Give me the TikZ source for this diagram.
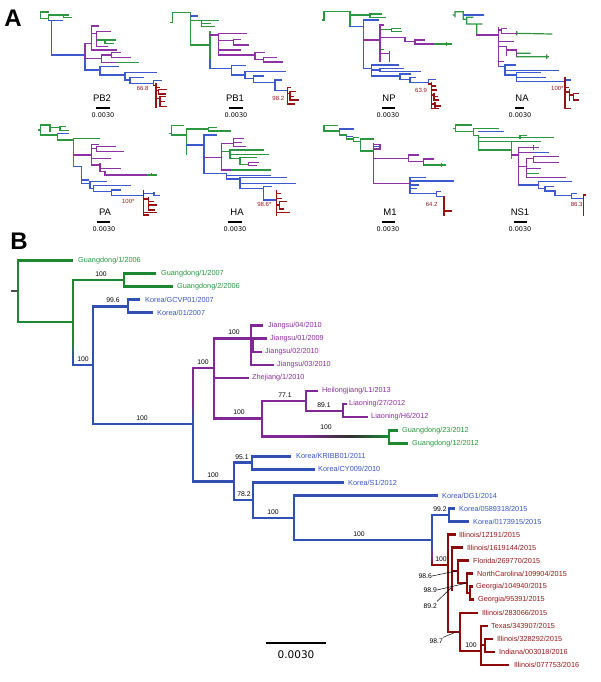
\documentclass[tikz,border=0pt]{standalone}
\usepackage{fontspec}
\setmainfont{Liberation Sans}
\newfontfamily\dvs{DejaVu Sans}
\definecolor{gA}{RGB}{45,150,65}
\definecolor{bA}{RGB}{60,90,205}
\definecolor{pA}{RGB}{140,50,165}
\definecolor{rA}{RGB}{150,20,20}
\definecolor{gB}{RGB}{30,135,50}
\definecolor{bB}{RGB}{50,80,180}
\definecolor{pB}{RGB}{130,40,150}
\definecolor{rB}{RGB}{140,10,10}
\definecolor{dkB}{RGB}{50,50,50}
\definecolor{gT}{RGB}{40,150,60}
\definecolor{bT}{RGB}{55,85,200}
\definecolor{pT}{RGB}{140,45,160}
\definecolor{rT}{RGB}{150,25,25}
% gradient helpers: x, y1, y2, colour1, colour2
\newcommand\vgr[5]{\foreach \k in {0,...,11}{%
  \pgfmathsetmacro\ya{#2+(#3-#2)*\k/12}%
  \pgfmathsetmacro\yb{#2+(#3-#2)*(\k+1)/12}%
  \pgfmathtruncatemacro\pc{100*\k/11}%
  \draw[line width=2.7pt,draw=#5!\pc!#4] (#1,\ya)--(#1,\yb);}}
% y, x1, x2, colour1, colour2
\newcommand\hgr[5]{\foreach \k in {0,...,15}{%
  \pgfmathsetmacro\xa{#2+(#3-#2)*\k/16}%
  \pgfmathsetmacro\xb{#2+(#3-#2)*(\k+1)/16}%
  \pgfmathtruncatemacro\pc{100*\k/15}%
  \draw[line width=2.7pt,draw=#5!\pc!#4] (\xa,#1)--(\xb,#1);}}
\begin{document}
\begin{tikzpicture}[x=1pt,y=-1pt,
 ag/.style={draw=gA,line width=1.2pt,line cap=rect},
 ab/.style={draw=bA,line width=1.2pt,line cap=rect},
 ap/.style={draw=pA,line width=1.2pt,line cap=rect},
 ar/.style={draw=rA,line width=1.2pt,line cap=rect},
 gl/.style={draw=gB,line width=2.7pt,line cap=rect},
 bl/.style={draw=bB,line width=2.7pt,line cap=rect},
 pl/.style={draw=pB,line width=2.7pt,line cap=rect},
 rl/.style={draw=rB,line width=2.7pt,line cap=rect},
 lead/.style={draw=black,line width=0.5pt},
 lab/.style={anchor=west,inner sep=0pt,font=\fontsize{7.3}{8}\selectfont},
 num/.style={inner sep=0pt,font=\fontsize{6.8}{8}\selectfont},
 gene/.style={inner sep=0pt,font=\fontsize{9.5}{10}\selectfont},
 sc/.style={inner sep=0pt,font=\dvs\fontsize{6.5}{7}\selectfont},
 bsc/.style={inner sep=0pt,font=\dvs\fontsize{10.5}{11}\selectfont},
 anum/.style={inner sep=0pt,font=\fontsize{6}{7}\selectfont,text=rT},
 pan/.style={inner sep=0pt,font=\fontsize{24}{24}\selectfont\bfseries},
 sbar/.style={draw=black,line width=2pt},
]
\useasboundingbox (0,0) rectangle (600,682);
\fill[white] (0,0) rectangle (600,682);

%================ PANEL A =================
\node[pan] (pA) at (13,18) {A};
\begin{scope}[shift={(0,0)},scale=1/3]
% PB2
\draw[ag] (122,36)--(146,36) (122,36)--(122,56) (122,56)--(146,56) (146,45)--(146,62) (146,45)--(190,45) (190,45)--(190,53) (190,45)--(205,45) (190,53)--(215,53) (290,120)--(345,120) (315,120)--(315,130) (315,130)--(340,130) (350,188)--(415,188);
\draw[ab] (146,62)--(188,62) (155,62)--(155,165) (155,165)--(255,165) (255,175)--(255,210) (255,210)--(300,210) (300,200)--(300,225) (300,200)--(355,200) (300,225)--(375,225) (375,218)--(375,240) (375,218)--(470,218) (375,240)--(390,240) (390,232)--(390,250) (390,232)--(430,232) (390,250)--(460,250) (460,242)--(460,256) (460,242)--(485,242);
\draw[ap] (255,130)--(255,175) (255,130)--(275,130) (275,78)--(275,150) (275,78)--(295,78) (275,100)--(290,100) (290,95)--(290,140) (290,95)--(330,95) (290,140)--(322,140) (275,150)--(350,150) (255,175)--(305,175) (305,165)--(305,188) (305,165)--(335,165) (335,158)--(335,172) (335,158)--(360,158) (335,172)--(390,172) (305,188)--(350,188);
\draw[ar] (460,256)--(468,256) (468,250)--(468,322) (468,262)--(478,262) (468,272)--(475,272) (475,268)--(475,282) (475,268)--(498,268) (475,282)--(495,282) (468,296)--(480,296) (480,290)--(480,320) (480,290)--(497,290) (480,305)--(493,305) (480,320)--(500,320);
\node[anum] (bPB2) at (428,266) {66.8};
% PB1
\draw[ag] (511,67)--(517,67) (517,37)--(517,67) (517,37)--(572,37) (572,37)--(572,135) (572,62)--(605,62) (605,62)--(605,80) (605,62)--(655,62) (605,71)--(632,71) (605,80)--(642,80) (572,135)--(630,135) (630,95)--(630,178);
\draw[ab] (572,48)--(592,48) (630,178)--(630,205) (630,205)--(695,205) (695,197)--(695,225) (695,197)--(735,197) (695,225)--(735,225) (735,215)--(735,235) (735,215)--(855,215) (735,235)--(760,235) (760,228)--(760,248) (760,228)--(790,228) (760,248)--(825,248) (825,240)--(825,272) (825,240)--(845,240) (825,272)--(862,272);
\draw[ap] (630,105)--(655,105) (655,100)--(655,165) (655,100)--(740,100) (655,122)--(700,122) (700,118)--(700,135) (700,118)--(720,118) (700,135)--(745,135) (655,150)--(720,150) (655,165)--(765,165) (765,158)--(765,178) (765,158)--(792,158) (765,178)--(790,178) (790,172)--(790,186) (790,172)--(830,172) (790,186)--(848,186);
\draw[ar] (862,262)--(862,312) (862,262)--(870,262) (862,280)--(870,280) (870,275)--(870,300) (870,275)--(885,275) (870,290)--(880,290) (870,300)--(895,300) (862,312)--(882,312);
\node[anum] (bPB1) at (835,295) {98.2};
\end{scope}
\begin{scope}[shift={(300,0)},scale=1/3]
% NP
\draw[ag] (68,60)--(72,60) (72,35)--(72,62) (72,35)--(150,35) (150,35)--(150,80) (150,45)--(210,45) (210,42)--(210,52) (210,42)--(245,42) (210,52)--(255,52) (240,88)--(275,88) (275,85)--(275,95) (275,85)--(300,85) (275,95)--(305,95) (400,132)--(455,132) (440,127)--(440,136) (240,148)--(250,148);
\draw[ab] (150,80)--(190,80) (190,60)--(190,205) (190,60)--(235,60) (190,205)--(215,205) (215,195)--(215,228) (215,195)--(295,195) (215,210)--(240,210) (240,205)--(240,215) (240,205)--(310,205) (240,215)--(360,215) (215,228)--(300,228) (300,222)--(300,238) (300,222)--(330,222) (300,238)--(330,238) (330,232)--(330,248) (330,232)--(345,232) (330,248)--(385,248) (385,238)--(385,252) (385,238)--(405,238);
\draw[ap] (190,120)--(240,120) (240,75)--(240,185) (240,75)--(250,75) (240,112)--(315,112) (315,112)--(315,125) (315,125)--(345,125) (345,120)--(345,132) (345,120)--(372,120) (345,132)--(400,132) (240,160)--(268,160) (268,155)--(268,185);
\draw[ar] (385,252)--(395,252) (395,248)--(395,325) (395,258)--(405,258) (395,270)--(408,270) (395,285)--(402,285) (402,282)--(402,300) (402,290)--(412,290) (402,300)--(414,300) (395,312)--(405,312) (405,308)--(405,325) (405,318)--(420,318) (395,325)--(415,325);
\node[anum] (bNP) at (363,270) {63.9};
% NA
\draw[ag] (460,45)--(465,45) (465,35)--(465,50) (465,35)--(490,35) (490,35)--(490,58) (490,58)--(500,58) (500,52)--(500,72) (500,52)--(518,52) (500,72)--(530,72) (530,72)--(530,105) (530,72)--(545,72) (650,100)--(755,102) (650,95)--(650,104) (650,160)--(690,160) (650,170)--(745,170) (740,165)--(740,175);
\draw[ab] (490,45)--(550,45) (595,200)--(615,200) (615,195)--(615,225) (615,195)--(645,195) (615,212)--(775,212) (615,225)--(650,225) (650,218)--(650,245) (650,218)--(720,218) (650,232)--(735,232) (650,245)--(795,245) (795,240)--(812,240);
\draw[ap] (530,105)--(595,105) (595,82)--(595,200) (595,90)--(605,90) (605,85)--(605,100) (605,85)--(620,85) (605,100)--(650,100) (595,125)--(640,125) (595,140)--(620,140) (620,140)--(620,165) (620,150)--(650,150) (650,150)--(650,170) (595,185)--(610,185);
\draw[ar] (795,232)--(795,325) (795,262)--(805,262) (795,276)--(808,276) (808,270)--(808,300) (808,285)--(820,285) (820,280)--(820,300) (820,280)--(835,280) (820,300)--(835,300) (795,325)--(810,325);
\node[anum] (bNA) at (772,265) {100*};
\end{scope}
\begin{scope}[shift={(0,105)},scale=1/3]
% PA
\draw[ag] (115,75)--(122,75) (122,60)--(122,90) (122,60)--(150,60) (150,60)--(150,78) (150,68)--(180,68) (180,64)--(180,76) (180,64)--(195,64) (180,76)--(205,76) (122,90)--(172,90) (172,85)--(172,105) (172,105)--(220,105) (220,100)--(220,185) (220,100)--(298,100) (440,210)--(470,210) (455,205)--(455,212);
\draw[ab] (172,85)--(205,85) (220,185)--(245,185) (245,185)--(245,235) (245,225)--(265,225) (245,235)--(270,235) (270,230)--(270,250) (270,230)--(320,230) (270,250)--(280,250) (280,242)--(280,260) (280,242)--(390,242) (280,260)--(335,260) (335,255)--(335,272) (335,255)--(360,255) (335,272)--(430,272) (430,265)--(462,265) (462,262)--(462,272) (462,272)--(478,272);
\draw[ap] (220,150)--(275,150) (275,118)--(275,180) (275,118)--(295,118) (275,130)--(290,130) (290,125)--(290,140) (290,125)--(345,125) (290,140)--(370,140) (275,160)--(330,160) (275,180)--(300,180) (300,175)--(300,200) (300,190)--(360,190) (300,200)--(315,200) (315,200)--(315,210) (315,210)--(440,210);
\draw[ar] (430,258)--(430,330) (430,282)--(445,282) (445,278)--(445,315) (445,290)--(460,290) (445,300)--(470,300) (445,315)--(462,315) (430,322)--(470,322) (430,330)--(445,330);
\node[anum] (bPA) at (385,290) {100*};
% HA
\draw[ag] (510,85)--(515,85) (515,62)--(515,90) (515,62)--(550,62) (515,90)--(560,90) (560,72)--(560,148) (560,72)--(625,72) (625,68)--(625,78) (625,68)--(650,68) (625,78)--(690,78) (665,140)--(690,140) (690,135)--(690,160) (690,135)--(790,135) (690,148)--(805,148) (690,160)--(720,160) (720,158)--(720,178) (720,158)--(770,158) (720,178)--(745,178) (690,195)--(810,195);
\draw[ab] (560,120)--(612,120) (612,90)--(612,205) (612,90)--(648,90) (612,205)--(680,205) (680,205)--(680,222) (680,212)--(810,212) (680,222)--(720,222) (720,218)--(720,250) (720,218)--(860,218) (720,235)--(885,235) (720,250)--(790,250) (790,245)--(790,285) (790,245)--(815,245) (790,285)--(830,285);
\draw[ap] (612,158)--(665,158) (665,115)--(665,195) (665,115)--(700,115) (700,100)--(700,125) (700,100)--(730,100) (700,112)--(725,112) (700,125)--(735,125) (745,172)--(745,182) (745,172)--(775,172) (745,182)--(770,182) (665,195)--(690,195);
\draw[ar] (830,258)--(830,330) (830,265)--(840,265) (830,280)--(845,280) (838,290)--(838,312) (830,300)--(838,300) (838,290)--(860,290) (838,312)--(850,312) (830,322)--(868,322);
\node[anum] (bHA) at (793,298) {98.6*};
\end{scope}
\begin{scope}[shift={(300,105)},scale=1/3]
% M1
\draw[ag] (72,62)--(112,62) (72,62)--(72,78) (72,78)--(118,78) (118,72)--(118,90) (118,90)--(140,90) (140,88)--(140,102) (140,102)--(160,102) (160,98)--(160,110) (160,98)--(175,98) (160,110)--(182,110) (182,102)--(182,138) (182,102)--(220,102) (182,138)--(220,138) (370,180)--(435,180) (425,176)--(425,184);
\draw[ab] (118,72)--(160,72) (140,95)--(158,95) (222,125)--(242,125) (330,218)--(330,265) (330,218)--(375,218) (330,228)--(460,228) (330,240)--(355,240) (330,250)--(350,250) (330,265)--(410,265) (410,260)--(410,275) (410,260)--(420,260) (410,275)--(432,275);
\draw[ap] (220,116)--(220,235) (220,118)--(242,118) (220,132)--(242,132) (240,118)--(240,132) (220,160)--(325,160) (325,150)--(325,170) (325,150)--(355,150) (325,170)--(370,170) (370,162)--(370,180) (370,162)--(400,162) (220,235)--(330,235);
\draw[ar] (432,275)--(432,330) (432,318)--(455,318);
\node[anum] (bM1) at (395,298) {64.2};
% NS1
\draw[ag] (462,70)--(467,70) (467,60)--(467,80) (467,60)--(515,60) (467,80)--(520,80) (520,70)--(520,92) (520,70)--(595,70) (520,92)--(535,92) (535,92)--(535,135) (535,97)--(760,97) (660,92)--(660,100) (660,92)--(680,92) (535,110)--(720,110) (535,135)--(635,135) (635,112)--(635,160) (680,205)--(715,205);
\draw[ab] (535,80)--(610,80) (700,142)--(745,142) (655,240)--(715,240) (715,230)--(715,250) (715,230)--(815,230) (715,250)--(735,250) (735,245)--(735,258) (735,245)--(760,245) (735,258)--(765,258) (765,258)--(765,272) (765,272)--(815,272) (815,265)--(815,280) (815,265)--(830,265) (815,280)--(850,280);
\draw[ap] (635,150)--(655,150) (655,128)--(655,240) (655,128)--(715,128) (700,123)--(700,133) (655,142)--(700,142) (655,185)--(680,185) (680,160)--(680,218) (680,160)--(700,160) (700,155)--(700,172) (700,155)--(775,155) (700,172)--(775,172) (680,190)--(720,190) (680,218)--(795,218);
\draw[ar] (850,270)--(850,330) (850,270)--(856,270);
\node[anum] (bNS1) at (830,298) {86.3};
\end{scope}
\node[gene] (tPB2) at (102,98) {PB2};
\node[gene] (tPB1) at (235,98) {PB1};
\node[gene] (tNP) at (389,98) {NP};
\node[gene] (tNA) at (522,98) {NA};
\node[gene] (tPA) at (105,212) {PA};
\node[gene] (tHA) at (237,212) {HA};
\node[gene] (tM1) at (390,212) {M1};
\node[gene] (tNS1) at (520,212) {NS1};
\draw[sbar] (96,108)--(110,108) (229,108)--(243,108) (382,108)--(395,108) (515,108)--(524,108);
\draw[sbar] (97,222)--(110,222) (228,222)--(242,222) (382,222)--(395,222) (514,222)--(527,222);
\node[sc] (s1) at (103,115) {0.0030};
\node[sc] (s2) at (236,115) {0.0030};
\node[sc] (s3) at (388,115) {0.0030};
\node[sc] (s4) at (520,115) {0.0030};
\node[sc] (s5) at (104,229) {0.0030};
\node[sc] (s6) at (235,229) {0.0030};
\node[sc] (s7) at (388,229) {0.0030};
\node[sc] (s8) at (520,229) {0.0030};

%================ PANEL B =================
\node[pan] (pB) at (19,241) {B};
\draw[gl,draw=black!70] (12,291)--(18,291);
\draw[gl] (18,260.5)--(18,322) (18,260.5)--(72,260.5) (18,322)--(73,322) (73,280)--(73,342) (73,280)--(124,280) (124,273.6)--(124,286.6) (124,273.6)--(155,273.6) (124,286.6)--(172,286.6);
\vgr{73}{342}{360}{gB}{bB}
\draw[bl] (73,360)--(73,365) (73,365)--(93,365) (93,306.2)--(93,424) (93,306.2)--(128,306.2) (128,299.7)--(128,312.7) (128,299.7)--(139,299.7) (128,312.7)--(152,312.7) (93,424)--(193,424);
% purple clade
\draw[pl] (193,368)--(193,400) (193,368)--(214,368) (214,338.8)--(214,418.7) (214,338.8)--(251,338.8) (251,325.8)--(251,364.9) (251,325.8)--(262,325.8) (251,338.8)--(266,338.8) (253,338.8)--(253,351.9) (253,351.9)--(261,351.9) (251,364.9)--(273,364.9) (214,378)--(248,378) (214,418.7)--(262,418.7) (262,401)--(262,436.5) (262,401)--(306,401) (306,391)--(306,411) (306,391)--(317,391) (306,411)--(343,411) (343,404.1)--(343,417.1) (343,404.1)--(346,404.1) (343,417.1)--(367,417.1) (262,436.5)--(300,436.5);
\vgr{193}{400}{421}{pB}{bB}
\hgr{436.5}{300}{350}{pB}{dkB}
\hgr{436.5}{350}{389}{dkB}{gB}
\draw[gl] (389,430.2)--(389,443.2) (389,430.2)--(397,430.2) (389,443.2)--(407,443.2);
% blue Korea
\draw[bl] (193,421)--(193,481.5) (193,481.5)--(234,481.5) (234,462.8)--(234,500) (234,462.8)--(252,462.8) (252,456.3)--(252,469.3) (252,456.3)--(290,456.3) (252,469.3)--(314,469.3) (234,500)--(253,500) (253,482.4)--(253,518) (253,482.4)--(343,482.4) (253,518)--(294,518) (294,495.4)--(294,540) (294,495.4)--(437,495.4) (294,540)--(432,540) (432,515)--(432,546) (432,515)--(449,515) (449,508.5)--(449,521.5) (449,508.5)--(454,508.5) (449,521.5)--(468,521.5);
\vgr{432}{546}{556}{bB}{pB}
\vgr{432}{556}{565}{pB}{rB}
% red clade
\draw[rl] (432,565)--(448,565) (448,534.6)--(448,632) (448,534.6)--(455,534.6) (452,547.6)--(452,590) (452,547.6)--(462,547.6) (452,571)--(458,571) (458,560.7)--(458,583) (458,560.7)--(468,560.7) (458,583)--(467,583) (467,573.7)--(467,593) (467,573.7)--(472,573.7) (467,593)--(470,593) (470,586.8)--(470,599.8) (470,586.8)--(472,586.8) (470,599.8)--(473,599.8) (448,632)--(460,632) (460,612.9)--(460,651) (460,612.9)--(477,612.9) (460,651)--(481,651) (481,625.9)--(481,665) (481,625.9)--(487,625.9) (481,645)--(485,645) (485,639)--(485,652) (485,639)--(492,639) (485,652)--(494,652) (481,665)--(508,665);
% leaf labels
\node[lab,text=gT] (n0) at (78,260.5) {Guangdong/1/2006};
\node[lab,text=gT] (n1) at (161,273.6) {Guangdong/1/2007};
\node[lab,text=gT] (n2) at (177,286.6) {Guangdong/2/2006};
\node[lab,text=bT] (n3) at (145,299.7) {Korea/GCVP01/2007};
\node[lab,text=bT] (n4) at (157,312.7) {Korea/01/2007};
\node[lab,text=pT] (n5) at (268,325.8) {Jiangsu/04/2010};
\node[lab,text=pT] (n6) at (270,338.8) {Jiangsu/01/2009};
\node[lab,text=pT] (n7) at (265,351.9) {Jiangsu/02/2010};
\node[lab,text=pT] (n8) at (277,364.9) {Jiangsu/03/2010};
\node[lab,text=pT] (n9) at (252,378) {Zhejiang/1/2010};
\node[lab,text=pT] (n10) at (322,391) {Heilongjiang/L1/2013};
\node[lab,text=pT] (n11) at (349,404.1) {Liaoning/27/2012};
\node[lab,text=pT] (n12) at (371,417.1) {Liaoning/H6/2012};
\node[lab,text=gT] (n13) at (402,430.2) {Guangdong/23/2012};
\node[lab,text=gT] (n14) at (412,443.2) {Guangdong/12/2012};
\node[lab,text=bT] (n15) at (296,456.3) {Korea/KRIBB01/2011};
\node[lab,text=bT] (n16) at (318,469.3) {Korea/CY009/2010};
\node[lab,text=bT] (n17) at (348,482.4) {Korea/S1/2012};
\node[lab,text=bT] (n18) at (442,495.4) {Korea/DG1/2014};
\node[lab,text=bT] (n19) at (459,508.5) {Korea/0589318/2015};
\node[lab,text=bT] (n20) at (473,521.5) {Korea/0173915/2015};
\node[lab,text=rT] (n21) at (459,534.6) {Illinois/12191/2015};
\node[lab,text=rT] (n22) at (467,547.6) {Illinois/1619144/2015};
\node[lab,text=rT] (n23) at (473,560.7) {Florida/269770/2015};
\node[lab,text=rT] (n24) at (477,573.7) {NorthCarolina/109904/2015};
\node[lab,text=rT] (n25) at (476,586.8) {Georgia/104940/2015};
\node[lab,text=rT] (n26) at (478,599.8) {Georgia/95391/2015};
\node[lab,text=rT] (n27) at (482,612.9) {Illinois/283066/2015};
\node[lab,text=rT] (n28) at (491,625.9) {Texas/343907/2015};
\node[lab,text=rT] (n29) at (497,639) {Illinois/328292/2015};
\node[lab,text=rT] (n30) at (499,652) {Indiana/003018/2016};
\node[lab,text=rT] (n31) at (514,665) {Illinois/077753/2016};
% support values
\node[num] (v1) at (101,274) {100};
\node[num] (v2) at (83,359) {100};
\node[num] (v3) at (113,300) {99.6};
\node[num] (v4) at (142,418) {100};
\node[num] (v5) at (203,362) {100};
\node[num] (v6) at (234,332) {100};
\node[num] (v7) at (285,395) {77.1};
\node[num] (v8) at (324,405) {89.1};
\node[num] (v9) at (239,412) {100};
\node[num] (v10) at (326,427) {100};
\node[num] (v11) at (213,475) {100};
\node[num] (v12) at (242,457) {95.1};
\node[num] (v13) at (244,494) {78.2};
\node[num] (v14) at (273,512) {100};
\node[num] (v15) at (359,534) {100};
\node[num] (v16) at (440,509) {99.2};
\node[num] (v17) at (441,559) {100};
\node[num] (v18) at (471,645) {100};
\node[num,anchor=east] (v19) at (432,576) {98.6};
\node[num,anchor=east] (v20) at (437,590) {98.9};
\node[num,anchor=east] (v21) at (437,606) {89.2};
\node[num,anchor=east] (v22) at (443,641) {98.7};
\coordinate (e19) at (456,571);
\coordinate (e20) at (467,583);
\coordinate (e21) at (451,588);
\coordinate (e22) at (456,632);
\draw[lead] (v19.east)--(e19) (v20.east)--(e20) ([yshift=2pt]v21.north east)--(e21) ([yshift=1pt]v22.north east)--(e22);
% scale bar
\draw[sbar,line width=2.5pt] (266,643)--(326,643);
\node[bsc] (sB) at (296,655) {0.0030};
\end{tikzpicture}
\end{document}
